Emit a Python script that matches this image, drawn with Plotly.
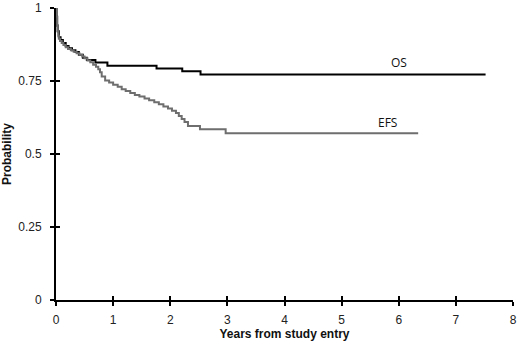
import plotly.graph_objects as go

# Kaplan-Meier style step data
os_years = [0, 0.01, 0.02, 0.03, 0.05, 0.08, 0.12, 0.17, 0.22, 0.28, 0.34, 0.40, 0.47, 0.54, 0.69, 0.90, 1.76, 2.21, 2.53, 7.52]
os_prob = [1.0, 0.97, 0.94, 0.92, 0.90, 0.89, 0.88, 0.87, 0.862, 0.855, 0.849, 0.84, 0.83, 0.822, 0.813, 0.802, 0.793, 0.783, 0.772, 0.772]

efs_years = [0, 0.01, 0.02, 0.03, 0.04, 0.05, 0.07, 0.10, 0.13, 0.17, 0.21, 0.26, 0.31, 0.36, 0.41,
             0.46, 0.50, 0.55, 0.60, 0.65, 0.70, 0.74, 0.77, 0.80, 0.86, 0.93, 1.00, 1.08, 1.15, 1.22,
             1.30, 1.38, 1.46, 1.55, 1.63, 1.72, 1.80, 1.88, 1.96, 2.03, 2.10, 2.15, 2.20, 2.25, 2.31,
             2.52, 2.97, 6.34]
efs_prob = [1.0, 0.97, 0.94, 0.92, 0.905, 0.895, 0.887, 0.88, 0.873, 0.866, 0.86, 0.855, 0.85, 0.845, 0.84,
            0.834, 0.828, 0.82, 0.814, 0.806, 0.799, 0.79, 0.78, 0.765, 0.752, 0.745, 0.737, 0.73, 0.722, 0.716,
            0.709, 0.702, 0.697, 0.69, 0.684, 0.677, 0.67, 0.663, 0.656, 0.648, 0.64, 0.63, 0.62, 0.61, 0.596,
            0.585, 0.571, 0.571]

x_ticks = [0, 1, 2, 3, 4, 5, 6, 7, 8]
y_ticks = [0, 0.25, 0.5, 0.75, 1]
y_tick_text = ["0", "0.25", "0.5", "0.75", "1"]

labels = ["OS", "EFS"]
label_x = [6.0, 5.81]
label_y = [0.815, 0.607]

fig = go.Figure()
fig.add_trace(go.Scatter(x=os_years, y=os_prob, mode="lines", line=dict(color="#000000", width=2, shape="hv"),
                         showlegend=False, hoverinfo="skip"))
fig.add_trace(go.Scatter(x=efs_years, y=efs_prob, mode="lines", line=dict(color="#6e6e6e", width=2, shape="hv"),
                         showlegend=False, hoverinfo="skip"))
# dummy trace to activate overlay axes (inside ticks)
fig.add_trace(go.Scatter(x=[None], y=[None], xaxis="x2", yaxis="y2", showlegend=False, hoverinfo="skip"))

for t, lx, ly in zip(labels, label_x, label_y):
    fig.add_annotation(x=lx, y=ly, text=t, showarrow=False, font=dict(family="Open Sans", size=12, color="#111"))

axis_font = dict(family="Liberation Sans, Arial", size=12, color="#222")
title_font = dict(family="Liberation Sans, Arial", size=12, color="#111")
fig.update_layout(
    width=520, height=347,
    margin=dict(l=56, r=7, t=8, b=47),
    paper_bgcolor="white", plot_bgcolor="white",
    xaxis=dict(range=[0, 8], tickvals=x_ticks, ticktext=[str(v) for v in x_ticks], showgrid=False, zeroline=False,
               showline=True, linecolor="black", linewidth=2, ticks="outside", ticklen=4, tickwidth=2,
               tickcolor="black", tickfont=axis_font, automargin=False, ticklabelstandoff=4,
               title=dict(text="<b>Years from study entry</b>", font=title_font, standoff=2)),
    yaxis=dict(range=[0, 1], tickvals=y_ticks, ticktext=y_tick_text, showgrid=False, zeroline=False,
               showline=True, linecolor="black", linewidth=2, ticks="outside", ticklen=4, tickwidth=2,
               tickcolor="black", tickfont=axis_font, automargin=False, ticklabelstandoff=6,
               title=dict(text="<b>Probability</b>", font=title_font, standoff=6)),
    xaxis2=dict(range=[0, 8], overlaying="x", side="bottom", tickvals=x_ticks, showticklabels=False, showgrid=False,
                zeroline=False, ticks="inside", ticklen=4, tickwidth=2, tickcolor="black", showline=False,
                automargin=False),
    yaxis2=dict(range=[0, 1], overlaying="y", side="left", tickvals=y_ticks, showticklabels=False, showgrid=False,
                zeroline=False, ticks="inside", ticklen=4, tickwidth=2, tickcolor="black", showline=False,
                automargin=False),
)

fig.write_html("out.html", config={"displayModeBar": False, "staticPlot": True},
               post_script="document.body.style.margin='0';document.body.style.overflow='hidden';")
